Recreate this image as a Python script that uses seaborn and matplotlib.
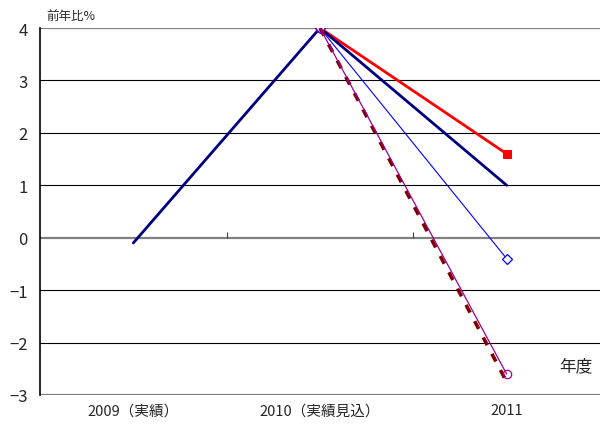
import numpy as np
import pandas as pd
import matplotlib
matplotlib.use("Agg")
import matplotlib.pyplot as plt
import seaborn as sns

sns.set_style("white")
plt.rcParams['font.family'] = ['Noto Sans CJK JP', 'DejaVu Sans']
plt.rcParams['axes.unicode_minus'] = True

# データ
years = ["2009（実績）", "2010（実績見込）", "2011"]
navy_vals = [-0.1, 4.0, 1.0]
red_vals = [np.nan, 4.0, 1.6]
blue_vals = [np.nan, 4.0, -0.4]
maroon_vals = [np.nan, 4.0, -2.75]
purple_vals = [np.nan, 4.0, -2.6]
yticks = [-3, -2, -1, 0, 1, 2, 3, 4]

fig = plt.figure(figsize=(6, 4.27), dpi=100)
ax = fig.add_axes([40 / 600, 31 / 427, 560 / 600, 367 / 427])

pos = np.arange(len(years))

# グリッド線
for v in yticks:
    if v in (0, -3, 4):
        ax.axhline(v, color="#808080", lw=1.6, zorder=1)
    else:
        ax.axhline(v, color="black", lw=0.8, zorder=1)

sns.lineplot(x=pos, y=red_vals, color="#ff0000", lw=2.0, marker="s",
             markersize=6, markerfacecolor="#ff0000", markeredgecolor="#ff0000", ax=ax, zorder=3)
sns.lineplot(x=pos, y=navy_vals, color="#000080", lw=2.0, ax=ax, zorder=4)
sns.lineplot(x=pos, y=blue_vals, color="#0000ff", lw=0.8, marker="D",
             markersize=5, markerfacecolor="white", markeredgecolor="#0000ff",
             markeredgewidth=0.9, ax=ax, zorder=5)
sns.lineplot(x=pos, y=maroon_vals, color="#800000", lw=2.6, ax=ax, zorder=5)
ax.lines[-1].set_dashes([2.4, 2.7])
sns.lineplot(x=pos, y=purple_vals, color="#990099", lw=0.9, marker="o",
             markersize=6, markerfacecolor="none", markeredgecolor="#990099",
             markeredgewidth=0.9, ax=ax, zorder=6)

# 0 の線上の区切り目盛り
ax.vlines([0.5, 1.5], 0, 0.1, color="#404040", lw=0.8, zorder=2)

ax.set_xlim(-0.5, 2.5)
ax.set_ylim(-3, 4)
ax.set_yticks(yticks)
ax.set_yticklabels([str(v).replace("-", "−") for v in yticks], fontsize=12)
ax.set_xticks(pos)
ax.set_xticklabels(years, fontsize=10.5)
ax.tick_params(axis="x", length=0, pad=6)
ax.tick_params(axis="y", length=0, pad=9)

for s in ["top", "right", "bottom"]:
    ax.spines[s].set_visible(False)
ax.spines["left"].set_color("black")
ax.spines["left"].set_linewidth(1.2)

fig.text(46 / 600, 1 - 16 / 427, "前年比%", fontsize=9, va="center", ha="left")
fig.text(576 / 600, 1 - 367 / 427, "年度", fontsize=12, va="center", ha="center")

fig.savefig("out.png", dpi=100)
